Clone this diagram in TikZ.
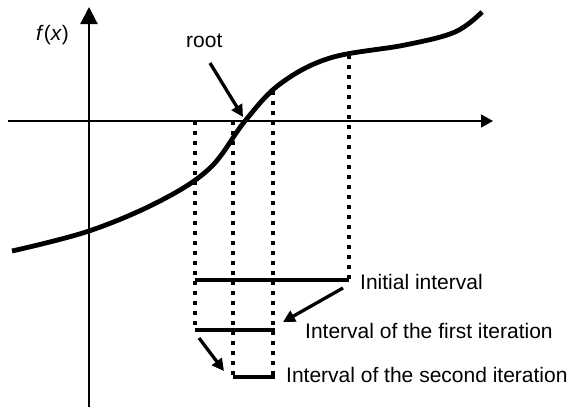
\documentclass[tikz,border=0pt]{standalone}
\usepackage{fontspec}
\setmainfont{Liberation Sans}
\usetikzlibrary{arrows.meta}
\begin{document}
\begin{tikzpicture}[x=1pt,y=-1pt,
  curve/.style={line width=4.8pt},
  dotline/.style={line width=4.4pt, dash pattern=on 4.4pt off 5.6pt},
  interval/.style={line width=4.4pt},
  pointer/.style={line width=3.3pt,-{Triangle[length=12pt,width=12pt]}},
  lbl/.style={font=\fontsize{21}{25}\selectfont, inner sep=0pt}]
\useasboundingbox (0,0) rectangle (570,407);
% axes
\coordinate (ybot) at (89,407);
\coordinate (ytop) at (89,7);
\coordinate (xleft) at (8,121);
\coordinate (xright) at (493,121);
\draw[line width=2.2pt,-{Triangle[length=17pt,width=17pt]}] (ybot) -- (ytop);
\draw[line width=1.4pt,-{Triangle[length=12pt,width=13pt]}] (xleft) -- (xright);
% function
\draw[curve] plot[smooth, tension=0.6] coordinates {(12,251) (89,231) (160,201) (210,168) (245,121) (280,84) (330,58) (405,45) (455,32) (482,12)};
% dotted verticals
\coordinate (a) at (195,121);
\coordinate (a1) at (195,330);
\coordinate (c) at (233,121);
\coordinate (c1) at (233,377);
\coordinate (m) at (273,91);
\coordinate (m1) at (273,377);
\coordinate (b) at (349,55);
\coordinate (b1) at (349,280);
\draw[dotline] (a) -- (a1);
\draw[dotline] (c) -- (c1);
\draw[dotline] (m) -- (m1);
\draw[dotline] (b) -- (b1);
% intervals
\coordinate (i0l) at (195,280);
\coordinate (i1r) at (275,330);
\coordinate (i2r) at (275,377);
\draw[interval] (i0l) -- (b1);
\draw[interval] (a1) -- (i1r);
\draw[interval] (c1) -- (i2r);
% labels
\node[lbl, anchor=base west] (root) at (186,47) {root};
\node[lbl, anchor=base west] (fx) at (36,40) {\textit{f}(\textit{x})};
\node[lbl, anchor=base west] (init) at (360,289) {Initial interval};
\node[lbl, anchor=base west] (first) at (305,338) {Interval of the first iteration};
\node[lbl, anchor=base west] (second) at (286,382) {Interval of the second iteration};
% pointers
\coordinate (p1s) at (210,63);
\coordinate (p1e) at (243,117);
\coordinate (p2s) at (343,288);
\coordinate (p2e) at (283,322);
\coordinate (p3s) at (199,338);
\coordinate (p3e) at (224,371);
\draw[pointer] (p1s) -- (p1e);
\draw[pointer] (p2s) -- (p2e);
\draw[pointer] (p3s) -- (p3e);
\end{tikzpicture}
\end{document}
